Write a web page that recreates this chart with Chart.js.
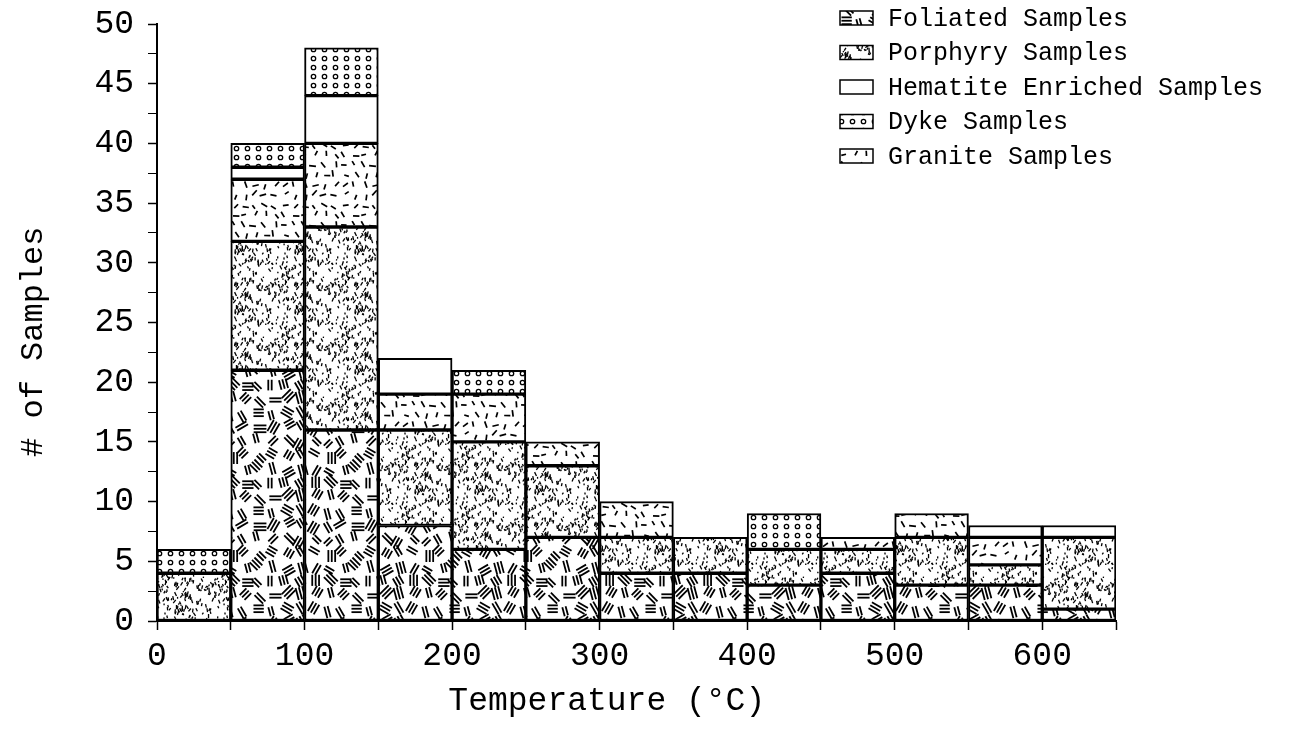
<!DOCTYPE html>
<html>
<head>
<meta charset="utf-8">
<script src="https://cdn.jsdelivr.net/npm/chart.js@4.4.1/dist/chart.umd.min.js"></script>
<style>
  html, body { margin: 0; padding: 0; background: #fff; }
  #wrap { width: 1294px; height: 729px; }
</style>
</head>
<body>
<div id="wrap"><canvas id="chart" width="1294" height="729"></canvas></div>
<script>
// bin centres (deg C), each bin is 50 wide
const binCenters = [25, 75, 125, 175, 225, 275, 325, 375, 425, 475, 525, 575, 625]

// counts per bin, stacked bottom -> top
const foliated  = [0, 21, 16, 8, 6, 7, 4, 4, 3, 4, 3, 3, 1]
const porphyry  = [4, 10.8, 17, 8, 9, 6, 3, 3, 3, 2, 4, 1.7, 6]
const granite   = [0, 5.2, 7, 3, 4, 2, 3, 0, 0, 1, 2, 2.3, 0]
const hematite  = [0, 1, 4, 3, 0, 0, 0, 0, 0, 0, 0, 1, 1]
const dyke      = [2, 2, 4, 0, 2, 0, 0, 0, 3, 0, 0, 0, 0]

const xTicks = [0, 100, 200, 300, 400, 500, 600]
const yTicks = [0, 5, 10, 15, 20, 25, 30, 35, 40, 45, 50]

const FONT = "'Liberation Mono', 'DejaVu Sans Mono', monospace"

// small deterministic hash for the textures
function h(i) {
  const s = Math.sin(i * 12.9898 + 78.233) * 43758.5453
  return s - Math.floor(s)
}

function tile(w, hgt, draw) {
  const c = document.createElement('canvas')
  c.width = w
  c.height = hgt
  const g = c.getContext('2d')
  g.fillStyle = '#fff'
  g.fillRect(0, 0, w, hgt)
  g.strokeStyle = '#000'
  g.fillStyle = '#000'
  draw(g, w, hgt)
  return g.createPattern(c, 'repeat')
}

// draw a segment, wrapped so the tile repeats cleanly
function seg(g, w, hgt, x, y, a, l) {
  const dx = Math.cos(a) * l / 2, dy = Math.sin(a) * l / 2
  for (const ox of [-w, 0, w]) {
    for (const oy of [-hgt, 0, hgt]) {
      g.beginPath()
      g.moveTo(x + ox - dx, y + oy - dy)
      g.lineTo(x + ox + dx, y + oy + dy)
      g.stroke()
    }
  }
}

// bold strokes in little parallel bundles, one bundle per grid cell
const patFoliated = tile(98, 98, (g, w, hh) => {
  const ang = [0, Math.PI / 2, Math.PI / 4, -Math.PI / 4, Math.PI / 3, -Math.PI / 3, Math.PI / 6, -Math.PI / 6, Math.PI / 2.4]
  const cell = 14
  g.lineWidth = 1.8
  let i = 0
  for (let cy = 0; cy < hh / cell; cy++) {
    for (let cx = 0; cx < w / cell; cx++) {
      i++
      const x = cx * cell + cell / 2 + (h(11 + i * 5) - 0.5) * 7
      const y = cy * cell + cell / 2 + (h(12 + i * 5) - 0.5) * 7
      const a = ang[Math.floor(h(13 + i * 5) * ang.length)]
      const n = 2 + Math.floor(h(14 + i * 5) * 2)
      const l = 9 + h(15 + i * 5) * 4
      const px = -Math.sin(a) * 3.4, py = Math.cos(a) * 3.4
      for (let k = 0; k < n; k++) {
        const off = k - (n - 1) / 2
        seg(g, w, hh, x + px * off, y + py * off, a, l)
      }
    }
  }
})
const patPorphyry = tile(60, 60, (g, w, hh) => {
  g.lineWidth = 1.3
  for (let i = 0; i < 190; i++) {
    const x = h(301 + i * 3) * w
    const y = h(302 + i * 3) * hh
    const a = Math.PI / 2 + (h(303 + i * 3) - 0.5) * 1.4
    const l = 1.2 + h(304 + i * 7) * 3.2
    seg(g, w, hh, x, y, a, l)
  }
})
const patGranite = tile(60, 60, (g, w, hh) => {
  const cell = 10
  g.lineWidth = 1.7
  let i = 0
  for (let cy = 0; cy < hh / cell; cy++) {
    for (let cx = 0; cx < w / cell; cx++) {
      i++
      const x = cx * cell + cell / 2 + (h(701 + i * 3) - 0.5) * 5
      const y = cy * cell + cell / 2 + (h(702 + i * 3) - 0.5) * 5
      const a = h(703 + i * 3) * Math.PI
      const l = 4.5 + h(704 + i * 7) * 2.5
      seg(g, w, hh, x, y, a, l)
    }
  }
})
const patDyke = tile(11, 9, (g) => {
  g.lineWidth = 1.3
  g.beginPath()
  g.arc(5.5, 4.5, 2.2, 0, Math.PI * 2)
  g.stroke()
})

const series = [
  { label: 'Foliated Samples', values: foliated, pat: patFoliated },
  { label: 'Porphyry Samples', values: porphyry, pat: patPorphyry },
  { label: 'Granite Samples', values: granite, pat: patGranite },
  { label: 'Hematite Enriched Samples', values: hematite, pat: '#ffffff' },
  { label: 'Dyke Samples', values: dyke, pat: patDyke }
]
// legend order as printed on the figure
const legendOrder = [0, 1, 3, 4, 2]

const datasets = series.map(s => ({
  label: s.label,
  data: binCenters.map((x, i) => ({ x: x, y: s.values[i] === 0 ? null : s.values[i] })),
  backgroundColor: s.pat,
  borderColor: '#000',
  borderWidth: 2,
  borderSkipped: false,
  barPercentage: 1,
  categoryPercentage: 1
}))

const legendPlugin = {
  id: 'figLegend',
  afterDraw(chart) {
    const ctx = chart.ctx
    ctx.save()
    ctx.font = '25px ' + FONT
    ctx.textBaseline = 'middle'
    legendOrder.forEach((k, row) => {
      const y = 18 + row * 34.5
      const ds = chart.data.datasets[k]
      ctx.fillStyle = ds.backgroundColor
      ctx.fillRect(840, y - 7, 33, 14)
      ctx.strokeStyle = '#000'
      ctx.lineWidth = 1.5
      ctx.strokeRect(840, y - 7, 33, 14)
      ctx.fillStyle = '#000'
      ctx.fillText(ds.label, 888, y + 1)
    })
    ctx.restore()
  }
}

new Chart(document.getElementById('chart'), {
  type: 'bar',
  data: { datasets: datasets },
  plugins: [legendPlugin],
  options: {
    responsive: false,
    animation: false,
    layout: { padding: { top: 24, right: 178, left: 14, bottom: 0 } },
    plugins: {
      legend: { display: false },
      tooltip: { enabled: false }
    },
    scales: {
      x: {
        type: 'linear',
        stacked: true,
        offset: false,
        min: 0,
        max: 650,
        afterFit: s => { s.height = 108 },
        afterBuildTicks: s => {
          const t = []
          for (let v = 0; v <= 650; v += 50) t.push({ value: v })
          s.ticks = t
        },
        ticks: {
          autoSkip: false,
          maxRotation: 0,
          padding: 6,
          color: '#000',
          font: { family: FONT, size: 33 },
          callback: v => xTicks.includes(v) ? String(v) : ''
        },
        grid: { drawOnChartArea: false, offset: false, color: '#000', tickLength: 9, tickWidth: 1.5 },
        border: { color: '#000', width: 2 },
        title: {
          display: true,
          text: 'Temperature (°C)   ',
          color: '#000',
          font: { family: FONT, size: 33 },
          padding: { top: 0, bottom: 8 }
        }
      },
      y: {
        stacked: true,
        min: 0,
        max: 50,
        afterFit: s => { s.width = 143; s.paddingTop = 18 },
        afterBuildTicks: s => {
          const t = []
          for (let v = 0; v <= 50; v += 2.5) t.push({ value: v })
          s.ticks = t
        },
        ticks: {
          autoSkip: false,
          padding: 14,
          color: '#000',
          font: { family: FONT, size: 33 },
          callback: v => yTicks.includes(v) ? String(v) : ''
        },
        grid: {
          drawOnChartArea: false,
          color: '#000',
          tickLength: 9,
          tickWidth: c => (c.tick && c.tick.value % 5 === 0) ? 1.5 : 1
        },
        border: { color: '#000', width: 2 },
        title: {
          display: true,
          text: '# of Samples  ',
          color: '#000',
          font: { family: FONT, size: 32 },
          padding: { top: 0, bottom: 10 }
        }
      }
    }
  }
})
</script>
</body>
</html>
